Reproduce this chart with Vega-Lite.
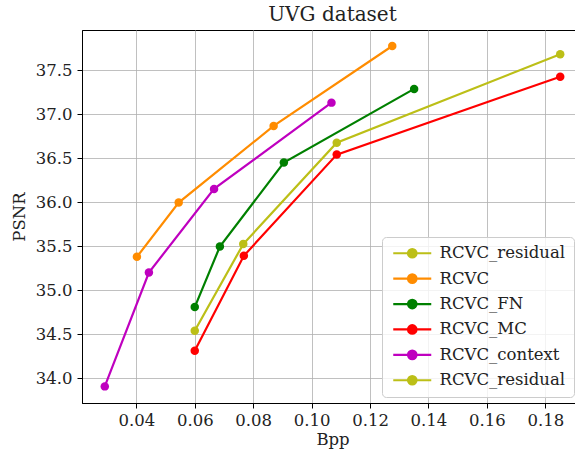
{
  "$schema": "https://vega.github.io/schema/vega-lite/v6.json",
  "autosize": "none",
  "padding": {"left": 82, "top": 30, "right": 0, "bottom": 52},
  "width": 501,
  "height": 373,
  "background": "white",
  "title": {"text": "UVG dataset", "font": "DejaVu Serif", "fontSize": 20, "fontWeight": "normal", "color": "#222222", "offset": 5, "anchor": "middle"},
  "config": {
    "view": {"stroke": "black", "strokeWidth": 1},
    "axis": {"labelFont": "DejaVu Serif", "labelFontSize": 16.5, "labelColor": "#222222", "titleFont": "DejaVu Serif", "titleFontSize": 16.5, "titleFontWeight": "normal", "titleColor": "#222222", "domainColor": "black", "domainWidth": 1, "tickColor": "black", "tickSize": 5, "gridColor": "#b0b0b0", "gridWidth": 0.8}
  },
  "data": {"values": [
    {"series": "RCVC", "bpp": 0.0402, "psnr": 35.378},
    {"series": "RCVC", "bpp": 0.0545, "psnr": 35.995},
    {"series": "RCVC", "bpp": 0.0870, "psnr": 36.867},
    {"series": "RCVC", "bpp": 0.1276, "psnr": 37.776},
    {"series": "RCVC_FN", "bpp": 0.0600, "psnr": 34.807},
    {"series": "RCVC_FN", "bpp": 0.0686, "psnr": 35.495},
    {"series": "RCVC_FN", "bpp": 0.0905, "psnr": 36.450},
    {"series": "RCVC_FN", "bpp": 0.1351, "psnr": 37.288},
    {"series": "RCVC_MC", "bpp": 0.0600, "psnr": 34.310},
    {"series": "RCVC_MC", "bpp": 0.0768, "psnr": 35.390},
    {"series": "RCVC_MC", "bpp": 0.1086, "psnr": 36.541},
    {"series": "RCVC_MC", "bpp": 0.1851, "psnr": 37.427},
    {"series": "RCVC_context", "bpp": 0.0292, "psnr": 33.905},
    {"series": "RCVC_context", "bpp": 0.0443, "psnr": 35.200},
    {"series": "RCVC_context", "bpp": 0.0666, "psnr": 36.151},
    {"series": "RCVC_context", "bpp": 0.1068, "psnr": 37.132},
    {"series": "RCVC_residual", "bpp": 0.0600, "psnr": 34.538},
    {"series": "RCVC_residual", "bpp": 0.0766, "psnr": 35.523},
    {"series": "RCVC_residual", "bpp": 0.1086, "psnr": 36.677},
    {"series": "RCVC_residual", "bpp": 0.1851, "psnr": 37.682}
  ]},
  "mark": {"type": "line", "strokeWidth": 2.2, "point": {"filled": true, "size": 72}},
  "encoding": {
    "x": {"field": "bpp", "type": "quantitative", "title": "Bpp",
      "scale": {"domain": [0.0214, 0.1929], "nice": false, "zero": false},
      "axis": {"values": [0.04, 0.06, 0.08, 0.10, 0.12, 0.14, 0.16, 0.18], "format": ".2f", "labelPadding": 4, "titlePadding": 3,
        "labelFont": "DejaVu Serif", "labelFontSize": 16.5, "titleFont": "DejaVu Serif"}},
    "y": {"field": "psnr", "type": "quantitative", "title": "PSNR",
      "scale": {"domain": [33.716, 37.958], "nice": false, "zero": false},
      "axis": {"values": [34.0, 34.5, 35.0, 35.5, 36.0, 36.5, 37.0, 37.5], "format": ".1f", "labelPadding": 5, "titlePadding": 8,
        "labelFont": "DejaVu Serif", "labelFontSize": 16.5, "titleFont": "DejaVu Serif"}},
    "color": {"field": "series", "type": "nominal",
      "scale": {"domain": ["RCVC_residual", "RCVC", "RCVC_FN", "RCVC_MC", "RCVC_context", "RCVC_residual "],
                "range": ["#bcbf17", "#ff8c00", "#008000", "#ff0000", "#bf00bf", "#bcbf17"]},
      "legend": {"title": null, "orient": "none", "legendX": 300, "legendY": 207,
        "labelFont": "DejaVu Serif", "labelFontSize": 16.5, "labelColor": "#222222",
        "symbolType": "M-1,0L6.6,0M1.95,0A0.85,0.85,0,1,0,3.65,0A0.85,0.85,0,1,0,1.95,0Z",
        "symbolSize": 100, "symbolStrokeWidth": 2.2, "labelOffset": 33,
        "rowPadding": 7.4, "padding": 8, "strokeColor": "#cccccc", "fillColor": "rgba(255,255,255,0.8)", "cornerRadius": 4,
        "encode": {"symbols": {"update": {"fill": {"scale": "color", "field": "value"}, "fillOpacity": {"value": 1}}}}}}
  }
}
